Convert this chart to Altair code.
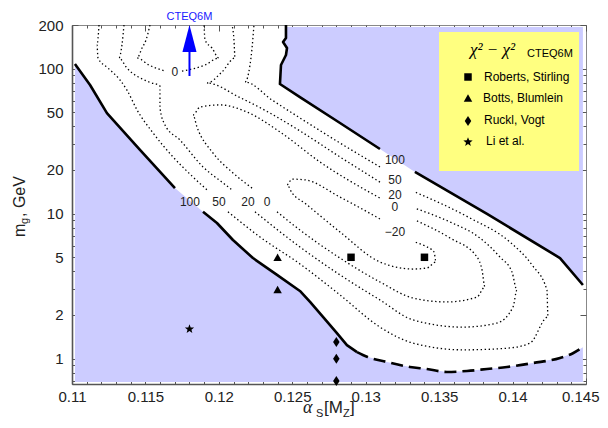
import math
import altair as alt
import pandas as pd

# ---------------- data (alpha_s, m_g in GeV) ----------------
x_domain = [0.11, 0.145]
y_domain = [0.6685, 200]
x_major = [0.11, 0.115, 0.12, 0.125, 0.13, 0.135, 0.14, 0.145]
x_minor = [round(0.11 + 0.001 * k, 3) for k in range(1, 35) if k % 5]
y_major = [1, 2, 5, 10, 20, 50, 100, 200]
y_minor = [0.7, 0.8, 0.9, 3, 4, 6, 7, 8, 9, 30, 40, 60, 70, 80, 90]

# shaded (excluded) region extent
region_left, region_right = 0.1102, 0.14479
region_bottom, region_top = 0.690, 193.8

# chi2 - chi2_CTEQ6M = 100 : lower branch (solid, split at its label)
b100_low1_a = [0.11020, 0.11123, 0.11238, 0.11463, 0.11701]
b100_low1_m = [107.6, 77.1, 49.4, 27.5, 15.0]
b100_gap_a = [0.11797]
b100_gap_m = [12.4]
b100_low2_a = [0.11892, 0.11987, 0.12096, 0.12232, 0.12396, 0.12552, 0.12621, 0.12709, 0.12804, 0.12872, 0.12941]
b100_low2_m = [10.3, 8.62, 6.58, 4.94, 3.78, 2.93, 2.46, 1.94, 1.50, 1.24, 1.11]
# lower edge, dashed part
b_dash_a = [0.12941, 0.13009, 0.13145, 0.13301, 0.13417, 0.13553, 0.13690, 0.13826, 0.13962, 0.14139, 0.14323, 0.14411, 0.14479]
b_dash_m = [1.11, 1.03, 0.948, 0.876, 0.848, 0.809, 0.822, 0.848, 0.876, 0.933, 1.01, 1.09, 1.20]
# upper branch of the 100 contour
b100_up1_a = [0.12457, 0.12457, 0.12437, 0.12464, 0.12457, 0.12423, 0.12416, 0.12552, 0.12825, 0.13097]
b100_up1_m = [200, 162.7, 152.7, 138.8, 124.2, 105.9, 78.4, 63.7, 42.2, 27.9]
b100_up2_a = [0.13335, 0.13826, 0.14323, 0.14479]
b100_up2_m = [19.4, 9.95, 4.94, 3.22]

# dotted contours
c50_1_a = [0.11184, 0.11170, 0.11177, 0.11245, 0.11327, 0.11374, 0.11443, 0.11552, 0.11688, 0.11824, 0.11919]
c50_1_m = [200, 145.6, 118.4, 101.0, 83.5, 71.2, 51.9, 36.0, 24.6, 17.9, 14.6]
c50_2_a = [0.12062, 0.12280, 0.12552, 0.12825, 0.13097, 0.13322, 0.13662, 0.13962, 0.14119, 0.14241, 0.14234, 0.14132, 0.13982, 0.13710, 0.13335]
c50_2_m = [10.3, 6.90, 4.50, 2.75, 1.65, 1.28, 1.15, 1.18, 1.28, 1.94, 2.97, 4.43, 6.37, 9.33, 14.1]
c50_3_a = [0.13097, 0.12825, 0.12552, 0.12362, 0.12178, 0.12212, 0.12226, 0.12239]
c50_3_m = [21.0, 30.7, 45.7, 60.8, 80.9, 105.9, 138.8, 200]

c20_1_a = [0.11354, 0.11340, 0.11320, 0.11374, 0.11524, 0.11599, 0.11599, 0.11633, 0.11735, 0.11892, 0.12028, 0.12089]
c20_1_m = [200, 145.6, 118.4, 101.0, 80.9, 75.9, 53.5, 40.9, 32.2, 21.0, 16.3, 14.6]
c20_2_a = [0.12246, 0.12552, 0.12825, 0.13097, 0.13322, 0.13662, 0.13894, 0.14003, 0.14030, 0.13996, 0.13914, 0.13778, 0.13574, 0.13335]
c20_2_m = [10.3, 5.89, 3.78, 2.54, 1.85, 1.65, 1.76, 2.27, 2.97, 3.96, 5.02, 6.79, 8.76, 10.9]
c20_3_a = [0.13097, 0.12825, 0.12552, 0.12348, 0.12137, 0.11919, 0.12021, 0.12110, 0.12103, 0.12089]
c20_3_m = [16.5, 24.6, 37.2, 49.4, 63.7, 79.6, 94.8, 118.4, 157.6, 200]

c0_1_a = [0.12226, 0.12096, 0.11960, 0.11851, 0.11824, 0.11872, 0.12008, 0.12192, 0.12416, 0.12689, 0.13097]
c0_1_m = [15.0, 19.1, 26.2, 39.6, 47.9, 54.4, 56.2, 50.2, 36.6, 22.7, 12.8]
c0_2_a = [0.12396, 0.12552, 0.12825, 0.13097, 0.13322, 0.13553, 0.13758, 0.13812, 0.13792, 0.13758, 0.13574, 0.13335]
c0_2_m = [10.3, 7.71, 4.94, 3.38, 2.62, 2.46, 2.66, 3.12, 4.09, 5.02, 6.79, 9.04]

cm20_a = [0.13097, 0.12825, 0.12586, 0.12498, 0.12464, 0.12498, 0.12586, 0.12825, 0.13097, 0.13322, 0.13417, 0.13479, 0.13465, 0.13404, 0.13335]
cm20_m = [9.19, 13.0, 17.1, 17.3, 15.8, 13.9, 11.8, 7.47, 4.64, 4.15, 4.22, 4.64, 5.44, 5.98, 6.37]

c0top_1_a = [0.11531, 0.11504, 0.11477, 0.11443, 0.11524, 0.11633]
c0top_1_m = [200, 157.6, 138.8, 118.4, 105.9, 96.3]
c0top_2_a = [0.11749, 0.11906, 0.12001, 0.11953, 0.11906, 0.11899]
c0top_2_m = [96.3, 105.9, 118.4, 138.8, 157.6, 200]

# contour labels
clab_a = [0.11803, 0.12001, 0.12198, 0.12328, 0.13199, 0.13199, 0.13199, 0.13199, 0.13199, 0.11701]
clab_m = [12.0, 12.0, 12.0, 12.0, 23.4, 17.1, 13.5, 11.1, 7.46, 94.8]
clab_t = ["100", "50", "20", "0", "100", "50", "20", "0", "\u221220", "0"]

# CTEQ6M arrow
cteq_a = 0.118
cteq_shaft_m = [89.0, 131.0]
cteq_head_a = [0.11752, 0.118, 0.11848]
cteq_head_base = [130.3, 130.3, 130.3]
cteq_head_tip = [130.3, 200.0, 130.3]

# fits from the literature
rs_a, rs_m = [0.129, 0.134], [5, 5]              # Roberts, Stirling
bb_a, bb_m = [0.124, 0.124], [5, 3]              # Botts, Blumlein
rv_a, rv_m = [0.128, 0.128, 0.128], [1.3, 1.0, 0.7]  # Ruckl, Vogt
li_a, li_m = [0.118], [1.6]                      # Li et al.
legend_labels = ["Roberts, Stirling", "Botts, Blumlein", "Ruckl, Vogt", "Li et al."]

# ---------------- styling ----------------
W, H = 514, 359
BLUE_FILL = "#ccccff"
YELLOW = "#ffff80"
SANS = "Liberation Sans"
SERIF = "Liberation Serif"
AX = "#555555"

XS = alt.Scale(domain=x_domain, nice=False, zero=False)
YS = alt.Scale(type="log", domain=y_domain, nice=False)


def ex(f="a"):
    return alt.X(f"{f}:Q", scale=XS, axis=None)


def ey(f="m"):
    return alt.Y(f"{f}:Q", scale=YS, axis=None)


def seg_df(segs):
    rows = []
    for name, al, ml in segs:
        for k, (a, m) in enumerate(zip(al, ml)):
            rows.append({"a": a, "m": m, "seg": name, "i": k})
    return pd.DataFrame(rows)


# shaded regions
low_df = pd.DataFrame({
    "a": b100_low1_a + b100_gap_a + b100_low2_a + b_dash_a[1:],
    "m": b100_low1_m + b100_gap_m + b100_low2_m + b_dash_m[1:],
})
low_df["bot"] = region_bottom
blue_low = alt.Chart(low_df).mark_area(color=BLUE_FILL, opacity=1).encode(
    x=ex(), y=ey("bot"), y2=alt.Y2("m:Q"))

up_df = pd.DataFrame({
    "a": b100_up1_a + b100_up2_a,
    "m": [region_top] + b100_up1_m[1:] + b100_up2_m,
})
up_df["right"] = region_right
blue_up = alt.Chart(up_df).mark_area(color=BLUE_FILL, opacity=1, orient="horizontal").encode(
    y=ey(), x=ex(), x2=alt.X2("right:Q"))

# lines
dotted_df = seg_df([
    ("c50_1", c50_1_a, c50_1_m), ("c50_2", c50_2_a, c50_2_m), ("c50_3", c50_3_a, c50_3_m),
    ("c20_1", c20_1_a, c20_1_m), ("c20_2", c20_2_a, c20_2_m), ("c20_3", c20_3_a, c20_3_m),
    ("c0_1", c0_1_a, c0_1_m), ("c0_2", c0_2_a, c0_2_m), ("cm20", cm20_a, cm20_m),
    ("c0t1", c0top_1_a, c0top_1_m), ("c0t2", c0top_2_a, c0top_2_m),
])
dotted = alt.Chart(dotted_df).mark_line(
    color="black", strokeWidth=1.3, strokeDash=[1.4, 2.6], clip=True, interpolate="monotone"
).encode(x=ex(), y=ey(), detail="seg:N", order="i:Q")

thick_df = seg_df([
    ("l1", b100_low1_a, b100_low1_m), ("l2", b100_low2_a, b100_low2_m),
    ("u1", b100_up1_a, b100_up1_m), ("u2", b100_up2_a, b100_up2_m),
])
thick = alt.Chart(thick_df).mark_line(
    color="black", strokeWidth=2.6, clip=True, strokeJoin="round"
).encode(x=ex(), y=ey(), detail="seg:N", order="i:Q")

dash_df = seg_df([("d", b_dash_a, b_dash_m)])
dashed = alt.Chart(dash_df).mark_line(
    color="black", strokeWidth=2.6, strokeDash=[12, 6], clip=True, interpolate="monotone"
).encode(x=ex(), y=ey(), order="i:Q")

lab_df = pd.DataFrame({"a": clab_a, "m": clab_m, "t": clab_t})
labels = alt.Chart(lab_df).mark_text(font=SANS, fontSize=12, color="#222222").encode(
    x=ex(), y=ey(), text="t:N")

# CTEQ6M arrow
shaft = alt.Chart(pd.DataFrame({"a": [cteq_a], "m1": [cteq_shaft_m[0]], "m2": [cteq_shaft_m[1]]})).mark_rule(
    color="#0000ff", strokeWidth=2).encode(x=ex(), y=ey("m1"), y2=alt.Y2("m2:Q"))
head = alt.Chart(pd.DataFrame({"a": cteq_head_a, "b": cteq_head_base, "t": cteq_head_tip})).mark_area(
    color="#0000ff", opacity=1).encode(x=ex(), y=ey("b"), y2=alt.Y2("t:Q"))
cteq_txt = alt.Chart(pd.DataFrame({"a": [cteq_a]})).mark_text(
    text="CTEQ6M", font=SANS, fontSize=11, color="#2020ff", baseline="alphabetic").encode(
    x=ex(), y=alt.value(-5))

# markers
STAR = "M" + "L".join(
    f"{(1.0 if k % 2 == 0 else 0.42) * math.cos(-math.pi / 2 + k * math.pi / 5):.4f},"
    f"{(1.0 if k % 2 == 0 else 0.42) * math.sin(-math.pi / 2 + k * math.pi / 5):.4f}"
    for k in range(10)) + "Z"
DIAMOND = "M0,-1L0.65,0L0,1L-0.65,0Z"


def marker(al, ml, shape, size):
    return alt.Chart(pd.DataFrame({"a": al, "m": ml})).mark_point(
        shape=shape, size=size, filled=True, color="black", opacity=1, strokeWidth=0).encode(
        x=ex(), y=ey())


marks = [
    marker(rs_a, rs_m, "square", 56),
    marker(bb_a, bb_m, "triangle-up", 72),
    marker(rv_a, rv_m, DIAMOND, 100),
    marker(li_a, li_m, STAR, 95),
]

# legend (in pixel space, inside the plot area)
one = pd.DataFrame({"k": [0]})
legend = [alt.Chart(one).mark_rect(color=YELLOW).encode(
    x=alt.value(367), x2=alt.value(507), y=alt.value(7), y2=alt.value(146))]
legend.append(alt.Chart(one).mark_text(
    text="\u03c7\u00b2 \u2212 \u03c7\u00b2", font=SERIF, fontStyle="italic", fontSize=17,
    align="left", baseline="alphabetic", color="black").encode(x=alt.value(398), y=alt.value(30)))
legend.append(alt.Chart(one).mark_text(
    text="CTEQ6M", font=SANS, fontSize=11, align="left", baseline="alphabetic",
    color="black").encode(x=alt.value(455), y=alt.value(32)))
for shape, size, yy in [("square", 56, 52), ("triangle-up", 72, 73), (DIAMOND, 100, 96), (STAR, 95, 117)]:
    legend.append(alt.Chart(one).mark_point(
        shape=shape, size=size, filled=True, color="black", opacity=1, strokeWidth=0).encode(
        x=alt.value(396), y=alt.value(yy)))
for lbl, xx, yy in zip(legend_labels, [412, 411, 412, 414], [52, 73, 95, 116]):
    legend.append(alt.Chart(one).mark_text(
        text=lbl, font=SANS, fontSize=12, align="left", baseline="middle", color="black").encode(
        x=alt.value(xx), y=alt.value(yy)))

# axis titles (pieces for sub-scripts)
titles = []
for txt, fnt, sty, fs, xx, yy in [
    ("\u03b1", SERIF, "italic", 18, 231, 388),
    ("S", SANS, "normal", 11, 244, 392),
    ("[M", SANS, "normal", 17, 252, 388),
    ("Z", SANS, "normal", 11, 271, 392),
    ("]", SANS, "normal", 17, 278, 388),
]:
    titles.append(alt.Chart(one).mark_text(
        text=txt, font=fnt, fontStyle=sty, fontSize=fs, align="left", baseline="alphabetic",
        color="#222222").encode(x=alt.value(xx), y=alt.value(yy)))
for txt, fs, xx, yy in [("m", 16, -47, 212), ("g", 11, -44, 199), (", GeV", 16, -47, 192)]:
    titles.append(alt.Chart(one).mark_text(
        text=txt, font=SANS, fontSize=fs, align="left", baseline="alphabetic", angle=270,
        color="#222222").encode(x=alt.value(xx), y=alt.value(yy)))

# axes
dummy = pd.DataFrame({"a": [0.12], "m": [10.0]})


def axis_layer(xaxis, yaxis):
    return alt.Chart(dummy).mark_point(opacity=0).encode(
        x=alt.X("a:Q", scale=XS, axis=xaxis), y=alt.Y("m:Q", scale=YS, axis=yaxis))


def tick_axis(orient, vals, size, offset):
    return alt.Axis(orient=orient, values=vals, ticks=True, tickSize=size, tickColor=AX,
                    tickWidth=1, labels=False, domain=False, grid=False, offset=offset, title=None)


label_style = dict(labelFont=SANS, labelFontSize=15, labelColor="#222222", labelOverlap=False,
                   grid=False, ticks=False, title=None)
axes = [
    axis_layer(
        alt.Axis(orient="bottom", values=x_major[:-1], format=".3~f", domain=True,
                 domainColor=AX, domainWidth=1.6, labelPadding=5, labelFlush=False, **label_style),
        alt.Axis(orient="left", values=y_major, format="~g", domain=True, domainColor=AX,
                 domainWidth=1.6, labelPadding=9, labelFlush=False, **label_style)),
    axis_layer(
        alt.Axis(orient="bottom", values=x_major[-1:], format=".3~f", domain=False,
                 labelPadding=5, labelFlush=False, labelAlign="right", labelOffset=13,
                 **label_style),
        None),
    axis_layer(tick_axis("top", x_major, 6, -H), tick_axis("right", y_major, 6, -W)),
    axis_layer(tick_axis("top", x_minor, 3, -H), tick_axis("right", y_minor, 3, -W)),
    axis_layer(tick_axis("bottom", x_major, 6, -H), tick_axis("left", y_major, 6, -W)),
    axis_layer(tick_axis("bottom", x_minor, 3, -H), tick_axis("left", y_minor, 3, -W)),
]

chart = alt.layer(
    blue_low, blue_up, dotted, thick, dashed, labels, shaft, head, cteq_txt,
    *marks, *legend, *titles, *axes
).resolve_scale(x="independent", y="independent").properties(
    width=W, height=H,
    padding={"left": 64, "top": 17, "right": 14, "bottom": 36},
    autosize=alt.AutoSizeParams(type="none"),
).configure_view(stroke="#888888", strokeWidth=1)

chart.save("out.html", embed_options={"renderer": "svg", "actions": False})
